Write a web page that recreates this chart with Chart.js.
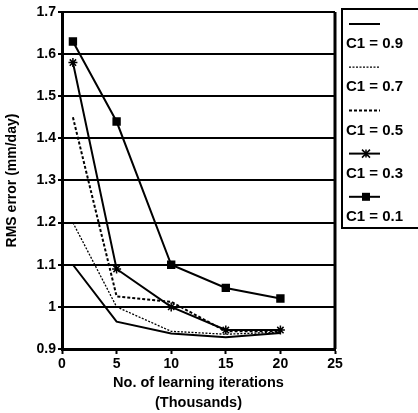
<!DOCTYPE html>
<html>
<head>
<meta charset="utf-8">
<script src="https://cdn.jsdelivr.net/npm/chart.js@4"></script>
<style>
  body { margin: 0; background: #fff; }
  canvas { display: block; }
</style>
</head>
<body>
<canvas id="rmsChart" width="418" height="413"></canvas>
<script>
// learning iterations (thousands)
const iterations = [1, 5, 10, 15, 20];

// RMS error (mm/day) for each C1 value
const c1_09 = [1.10, 0.965, 0.937, 0.928, 0.938];
const c1_07 = [1.20, 1.00, 0.942, 0.935, 0.940];
const c1_05 = [1.45, 1.025, 1.012, 0.942, 0.942];
const c1_03 = [1.58, 1.09, 1.00, 0.945, 0.945];
const c1_01 = [1.63, 1.44, 1.10, 1.045, 1.02];

const legendLabels = ["C1 = 0.9", "C1 = 0.7", "C1 = 0.5", "C1 = 0.3", "C1 = 0.1"];

const fontFamily = "'Liberation Sans', Arial, sans-serif";

function pts(ys) {
    return iterations.map((x, i) => ({ x: x, y: ys[i] }));
}

// legend drawn as sample line above its label, inside a box on the right
const sideLegend = {
    id: 'sideLegend',
    afterDraw(chart) {
        const ctx = chart.ctx;
        const left = 342, top = 9, bottom = 228;
        ctx.save();
        ctx.strokeStyle = '#000';
        ctx.lineWidth = 2;
        ctx.beginPath();
        ctx.moveTo(422, top);
        ctx.lineTo(left, top);
        ctx.lineTo(left, bottom);
        ctx.lineTo(422, bottom);
        ctx.stroke();

        ctx.font = "bold 15px " + fontFamily;
        ctx.fillStyle = '#000';
        ctx.textBaseline = 'middle';
        chart.data.datasets.forEach((ds, i) => {
            const y = 24 + i * 43.2;
            ctx.strokeStyle = '#000';
            ctx.lineWidth = ds.borderWidth;
            ctx.setLineDash(ds.borderDash || []);
            ctx.beginPath();
            ctx.moveTo(349, y);
            ctx.lineTo(380, y);
            ctx.stroke();
            ctx.setLineDash([]);
            if (ds.pointStyle === 'rect') {
                ctx.fillRect(362, y - 4, 8, 8);
            } else if (ds.pointStyle === 'star') {
                ctx.lineWidth = 1.5;
                ctx.beginPath();
                ctx.moveTo(362, y - 4); ctx.lineTo(370, y + 4);
                ctx.moveTo(370, y - 4); ctx.lineTo(362, y + 4);
                ctx.moveTo(366, y - 4); ctx.lineTo(366, y + 4);
                ctx.stroke();
            }
            ctx.fillText(legendLabels[i], 346, y + 20);
        });
        ctx.restore();
    }
};

new Chart(document.getElementById("rmsChart"), {
    type: 'line',
    data: {
        datasets: [
            {
                label: legendLabels[0],
                data: pts(c1_09),
                borderColor: '#000',
                borderWidth: 2,
                pointRadius: 0
            },
            {
                label: legendLabels[1],
                data: pts(c1_07),
                borderColor: '#000',
                borderWidth: 1.3,
                borderDash: [2, 1.5],
                pointRadius: 0
            },
            {
                label: legendLabels[2],
                data: pts(c1_05),
                borderColor: '#000',
                borderWidth: 2,
                borderDash: [3, 2],
                pointRadius: 0
            },
            {
                label: legendLabels[3],
                data: pts(c1_03),
                borderColor: '#000',
                borderWidth: 2,
                pointStyle: 'star',
                pointRadius: 4.5,
                pointBorderWidth: 1.5,
                pointBorderColor: '#000',
                pointBackgroundColor: '#000'
            },
            {
                label: legendLabels[4],
                data: pts(c1_01),
                borderColor: '#000',
                borderWidth: 2,
                pointStyle: 'rect',
                pointRadius: 4.5,
                pointBorderColor: '#000',
                pointBackgroundColor: '#000'
            }
        ]
    },
    options: {
        responsive: false,
        animation: false,
        layout: {
            padding: { top: 12, right: 83, left: 0, bottom: 0 }
        },
        plugins: {
            legend: { display: false },
            tooltip: { enabled: false }
        },
        scales: {
            x: {
                type: 'linear',
                min: 0,
                max: 25,
                afterFit(scale) { scale.height = 64; },
                ticks: {
                    stepSize: 5,
                    color: '#000',
                    font: { family: fontFamily, size: 14, weight: 'bold' },
                    maxRotation: 0,
                    padding: 2
                },
                grid: {
                    display: true,
                    drawOnChartArea: false,
                    drawTicks: true,
                    tickLength: 5,
                    tickWidth: 2,
                    tickColor: '#000'
                },
                border: { color: '#000', width: 3 },
                title: {
                    display: true,
                    text: ["No. of learning iterations", "(Thousands)"],
                    color: '#000',
                    font: { family: fontFamily, size: 14.5, weight: 'bold', lineHeight: 1.4 },
                    padding: { top: 3, bottom: 0 }
                }
            },
            y: {
                min: 0.9,
                max: 1.7,
                afterFit(scale) { scale.width = 62; },
                ticks: {
                    stepSize: 0.1,
                    color: '#000',
                    font: { family: fontFamily, size: 14, weight: 'bold' },
                    padding: 2,
                    callback: (v) => String(Math.round(v * 10) / 10)
                },
                grid: {
                    color: '#000',
                    lineWidth: 2,
                    tickLength: 4
                },
                border: { color: '#000', width: 3 },
                title: {
                    display: true,
                    text: "RMS error (mm/day)",
                    color: '#000',
                    font: { family: fontFamily, size: 14, weight: 'bold' },
                    padding: { bottom: 2 }
                }
            }
        }
    },
    plugins: [
        sideLegend,
        {
            id: 'rightBorder',
            afterDatasetsDraw(chart) {
                const a = chart.chartArea;
                const ctx = chart.ctx;
                ctx.save();
                ctx.strokeStyle = '#000';
                ctx.lineWidth = 3;
                ctx.beginPath();
                ctx.moveTo(a.right, a.top);
                ctx.lineTo(a.right, a.bottom);
                ctx.stroke();
                ctx.restore();
            }
        }
    ]
});
</script>
</body>
</html>
